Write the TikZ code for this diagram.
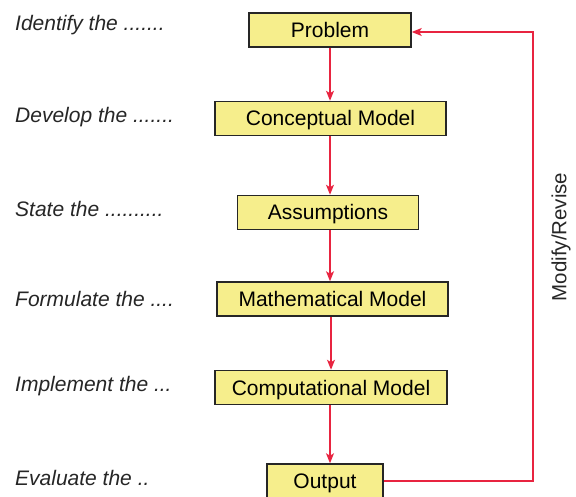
\documentclass[tikz,border=0pt]{standalone}
\usepackage{fontspec}
\setmainfont{Liberation Sans}
\usetikzlibrary{arrows.meta}
\definecolor{boxfill}{RGB}{246,238,140}
\definecolor{flowred}{RGB}{232,36,64}
\begin{document}
\begin{tikzpicture}[x=1pt,y=-1pt,
  stagebox/.style={draw=black!85, line width=1.5pt, fill=boxfill, minimum height=34pt,
    inner sep=0pt, text height=15pt, text depth=0pt, font=\fontsize{21}{25}\selectfont},
  stagelabel/.style={anchor=west, inner sep=0pt, text height=15pt, text depth=0pt,
    font=\fontsize{21}{25}\selectfont\itshape, text=black!85},
  flow/.style={draw=flowred, line width=1.3pt, -{Stealth[length=10pt,width=8pt,inset=2.5pt]}}]
\useasboundingbox (0,0) rectangle (576,497);
% stages of the modelling process
\node[stagebox, minimum width=162pt] (prob) at (330,30) {Problem};
\node[stagebox, minimum width=231pt] (concept) at (330.5,118.5) {Conceptual Model};
\node[stagebox, minimum width=181pt] (assume) at (328,212.5) {Assumptions};
\node[stagebox, minimum width=231pt] (math) at (332.5,299) {Mathematical Model};
\node[stagebox, minimum width=232pt] (comp) at (331,387.5) {Computational Model};
\node[stagebox, minimum width=116pt] (out) at (325,481) {Output};
% descriptions on the left
\node[stagelabel] (l1) at (15,23) {Identify the .......};
\node[stagelabel] (l2) at (15,115.5) {Develop the .......};
\node[stagelabel] (l3) at (15,209.5) {State the ..........};
\node[stagelabel] (l4) at (15,298.5) {Formulate the ....};
\node[stagelabel] (l5) at (15,383.5) {Implement the ...};
\node[stagelabel] (l6) at (15,477.5) {Evaluate the ..};
% downward flow
\draw[flow] (prob.south -| 330,0) -- (concept.north -| 330,0);
\draw[flow] (concept.south -| 330,0) -- (assume.north -| 330,0);
\draw[flow] (assume.south -| 330,0) -- (math.north -| 330,0);
\draw[flow] (math.south -| 331,0) -- (comp.north -| 331,0);
\draw[flow] (comp.south -| 330,0) -- (out.north -| 330,0);
% feedback loop
\coordinate (loopbot) at (533,481);
\coordinate (looptop) at (533,32);
\draw[flow] (out.east) -- (loopbot) -- (looptop) -- (prob.east |- looptop);
\node[rotate=90, inner sep=0pt, font=\fontsize{20.5}{24}\selectfont, text=black!85] (rev) at (561,237) {Modify/Revise};
\end{tikzpicture}
\end{document}
